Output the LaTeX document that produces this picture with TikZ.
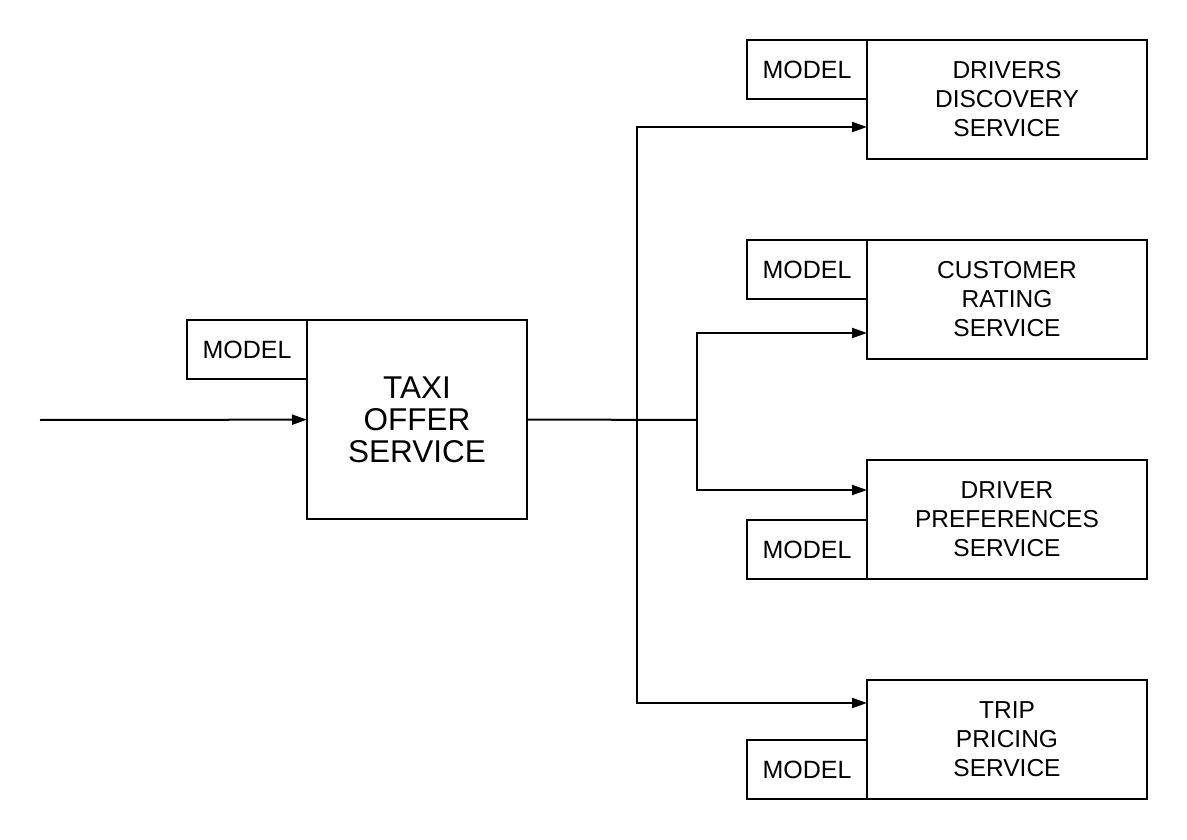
\documentclass[tikz,border=0pt]{standalone}
\usepackage{fontspec}
\setmainfont{Liberation Sans}
\usepackage{tikz}
\usetikzlibrary{arrows.meta}

\begin{document}
\begin{tikzpicture}[x=1pt,y=-1pt,line width=2pt,
    svc/.style={draw, rectangle, outer sep=0pt, inner sep=0pt,
        minimum width=280pt, minimum height=119pt, align=center,
        font=\fontsize{24.5}{29}\selectfont},
    mdl/.style={draw, rectangle, outer sep=0pt, inner sep=0pt,
        minimum width=120pt, minimum height=59pt,
        font=\fontsize{25}{28}\selectfont},
    arr/.style={-{Triangle[length=15pt,width=10pt]}}]
    \useasboundingbox (0,0) rectangle (1187,840);

    % draws main service
    \node[svc, minimum width=220pt, minimum height=199pt,
        font=\fontsize{31.5}{32}\selectfont] (taxi) at (417,419.5) {TAXI\\OFFER\\SERVICE};
    \node[mdl] (taximodel) at (247,349.5) {MODEL};

    % draws called services
    \node[svc] (ddisc) at (1007,99.5) {DRIVERS\\DISCOVERY\\SERVICE};
    \node[mdl] (ddiscmodel) at (807,69.5) {MODEL};
    \node[svc] (crate) at (1007,299.5) {CUSTOMER\\RATING\\SERVICE};
    \node[mdl] (cratemodel) at (807,269.5) {MODEL};
    \node[svc] (dpref) at (1007,519.5) {DRIVER\\PREFERENCES\\SERVICE};
    \node[mdl] (dprefmodel) at (807,549.5) {MODEL};
    \node[svc] (tprice) at (1007,739.5) {TRIP\\PRICING\\SERVICE};
    \node[mdl] (tpricemodel) at (807,769.5) {MODEL};

    % split points
    \coordinate (start) at (40,420);
    \coordinate (split1) at (637,420);
    \coordinate (split2) at (697,420);

    % draws edges
    \draw[arr] (start) -- (taxi);
    \draw (taxi.east) -- (split2);
    \draw[arr] (split1) |- ([yshift=-27.5pt]ddisc.west);
    \draw[arr] (split1) |- ([yshift=36.5pt]tprice.west);
    \draw[arr] (split2) |- ([yshift=-33.5pt]crate.west);
    \draw[arr] (split2) |- ([yshift=29.5pt]dpref.west);
\end{tikzpicture}
\end{document}
